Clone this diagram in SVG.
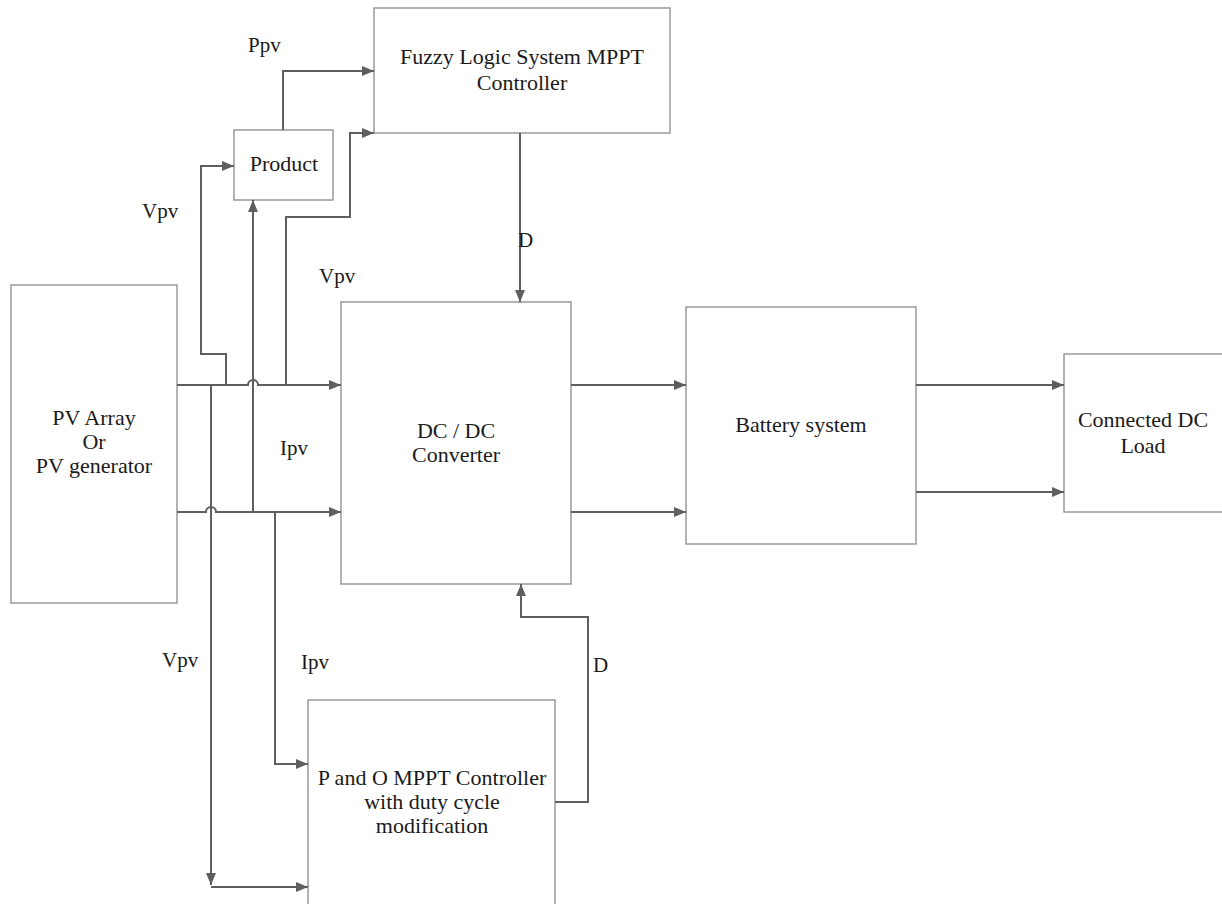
<svg xmlns="http://www.w3.org/2000/svg" width="1222" height="904" viewBox="0 0 1222 904">
<defs>
<marker id="arr" viewBox="0 0 12 10" refX="12" refY="5" markerWidth="12" markerHeight="10" markerUnits="userSpaceOnUse" orient="auto">
<path d="M0,0 L12,5 L0,10 Z" fill="#5f5f5f"/>
</marker>
<style>
.box{fill:#fff;stroke:#8a8a8a;stroke-width:1.3}
.ln{fill:none;stroke:#5f5f5f;stroke-width:2}
.t{font-family:"Liberation Serif",serif;font-size:22px;fill:#1a1a1a;text-anchor:middle}
.l{font-family:"Liberation Serif",serif;font-size:21px;fill:#1a1a1a}
</style>
</defs>
<rect width="1222" height="904" fill="#fff"/>
<g id="pv"><rect class="box" x="11" y="285" width="166" height="318"/>
<text class="t" x="94" y="425">PV Array</text><text class="t" x="94" y="449">Or</text><text class="t" x="94" y="473">PV generator</text></g>
<g id="fuzzy"><rect class="box" x="374" y="8" width="296" height="125"/>
<text class="t" x="522" y="64">Fuzzy Logic System MPPT</text><text class="t" x="522" y="90">Controller</text></g>
<g id="product"><rect class="box" x="234" y="130" width="99" height="70"/>
<text class="t" x="284" y="171">Product</text></g>
<g id="dcdc"><rect class="box" x="341" y="302" width="230" height="282"/>
<text class="t" x="456" y="438">DC / DC</text><text class="t" x="456" y="462">Converter</text></g>
<g id="battery"><rect class="box" x="686" y="307" width="230" height="237"/>
<text class="t" x="801" y="432">Battery system</text></g>
<g id="load"><rect class="box" x="1064" y="354" width="160" height="158"/>
<text class="t" x="1143" y="427">Connected DC</text><text class="t" x="1143" y="453">Load</text></g>
<g id="po"><rect class="box" x="308" y="700" width="247" height="210"/>
<text class="t" x="432" y="785">P and O MPPT Controller</text><text class="t" x="432" y="809">with duty cycle</text><text class="t" x="432" y="833">modification</text></g>
<g id="connectors">
<path class="ln" d="M177 385 H248 A5 5 0 0 1 258 385 H341" marker-end="url(#arr)"/>
<path class="ln" d="M177 512 H206 A5 5 0 0 1 216 512 H341" marker-end="url(#arr)"/>
<path class="ln" d="M226 385 V354 H201 V166 H234" marker-end="url(#arr)"/>
<path class="ln" d="M253 512 V200" marker-end="url(#arr)"/>
<path class="ln" d="M286 385 V217 H350 V133 H374" marker-end="url(#arr)"/>
<path class="ln" d="M283 130 V71 H374" marker-end="url(#arr)"/>
<path class="ln" d="M211 385 V885" marker-end="url(#arr)"/>
<path class="ln" d="M211 887 H308" marker-end="url(#arr)"/>
<path class="ln" d="M275 512 V764 H308" marker-end="url(#arr)"/>
<path class="ln" d="M520 133 V302" marker-end="url(#arr)"/>
<path class="ln" d="M555 802 H588 V617 H521 V584" marker-end="url(#arr)"/>
<path class="ln" d="M571 385 H686" marker-end="url(#arr)"/>
<path class="ln" d="M571 512 H686" marker-end="url(#arr)"/>
<path class="ln" d="M916 385 H1064" marker-end="url(#arr)"/>
<path class="ln" d="M916 492 H1064" marker-end="url(#arr)"/>
</g>
<g id="labels">
<text class="l" x="248" y="52">Ppv</text>
<text class="l" x="142" y="218">Vpv</text>
<text class="l" x="319" y="283">Vpv</text>
<text class="l" x="280" y="455">Ipv</text>
<text class="l" x="518" y="247">D</text>
<text class="l" x="301" y="669">Ipv</text>
<text class="l" x="162" y="667">Vpv</text>
<text class="l" x="593" y="672">D</text>
</g>
</svg>
